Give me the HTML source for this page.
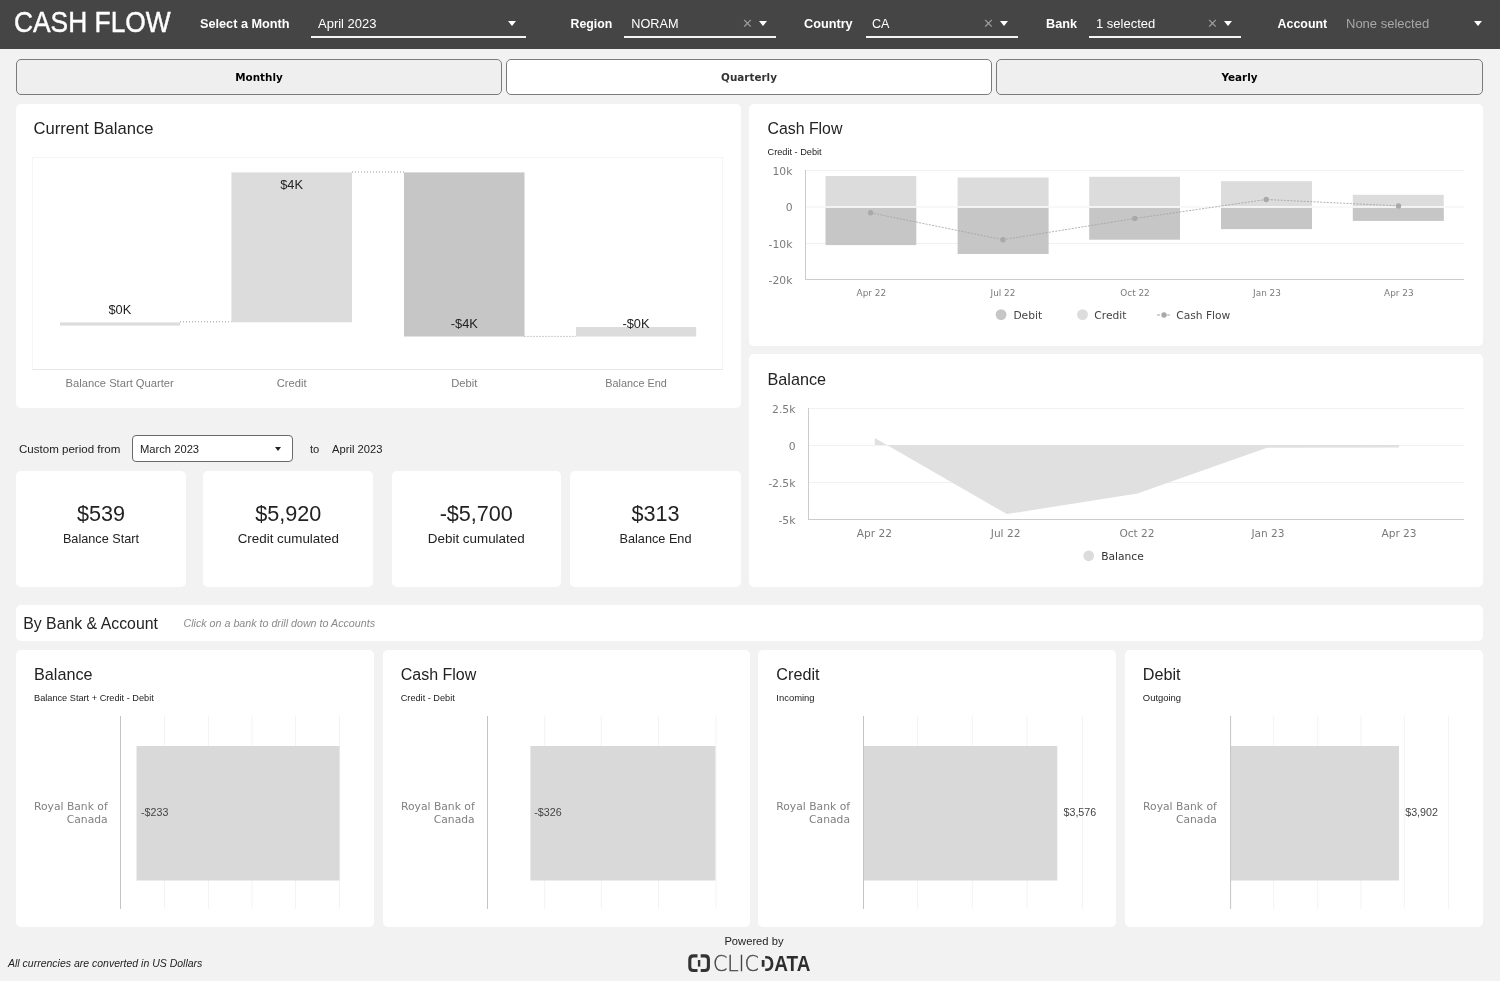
<!DOCTYPE html>
<html lang="en">
<head>
<meta charset="utf-8">
<title>Cash Flow</title>
<style>
*{box-sizing:border-box;margin:0;padding:0}
html,body{width:1500px;height:981px;overflow:hidden}
body{background:#f2f2f2;font-family:"Liberation Sans",sans-serif;color:#222;position:relative}
.abs{position:absolute}
.hdr{position:absolute;left:0;top:0;width:1500px;height:48.5px;background:#454545}
.hdr .title{position:absolute;left:14.3px;top:2.2px;font-size:30.3px;line-height:40px;color:#fff;-webkit-text-stroke:0.45px #fff;transform:scaleX(.87);transform-origin:0 50%;white-space:nowrap}
.hl{position:absolute;top:14.4px;font-size:12.7px;line-height:20px;font-weight:bold;color:#fff;white-space:nowrap}
.hv{position:absolute;top:14px;font-size:13px;line-height:20px;color:#fff;white-space:nowrap}
.ul{position:absolute;top:36px;height:2px;background:#f4f4f4}
.arr{position:absolute;top:21px;width:0;height:0;border-left:4.5px solid transparent;border-right:4.5px solid transparent;border-top:5px solid #fff}
.xx{position:absolute;top:14px;font-size:13px;line-height:20px;color:#9a9a9a}
.btn{position:absolute;top:59px;height:36px;border:1px solid #7b7b7b;border-radius:5px;background:#efefef;font-family:"DejaVu Sans",sans-serif;font-weight:bold;font-size:10.4px;line-height:34px;text-align:center;color:#000}
.card{position:absolute;background:#fff;border-radius:5px}
.kpi{position:absolute;top:471px;height:116.4px;background:#fff;border-radius:5px;text-align:center}
.kpi .v{position:absolute;left:0;right:0;top:29px;font-size:21.6px;line-height:28px;color:#222}
.kpi .l{position:absolute;left:0;right:0;top:58.5px;font-size:13.4px;line-height:18px;color:#222}
svg text{font-family:"Liberation Sans",sans-serif}
.t16{font-size:16.5px;fill:#222}
.sub{font-size:9.2px;fill:#222}
.vd{font-family:"DejaVu Sans",sans-serif !important}
</style>
</head>
<body>
<div class="hdr">
  <div class="title">CASH FLOW</div>
  <div class="hl" style="left:200px">Select a Month</div>
  <div class="hv" style="left:318px">April 2023</div>
  <div class="ul" style="left:311px;width:215px"></div>
  <div class="arr" style="left:507.5px"></div>

  <div class="hl" style="left:570.5px;font-size:12.3px">Region</div>
  <div class="hv" style="left:631.3px;font-size:12.7px">NORAM</div>
  <div class="ul" style="left:624px;width:152px"></div>
  <div class="xx" style="left:742px">✕</div>
  <div class="arr" style="left:758.5px"></div>

  <div class="hl" style="left:804px">Country</div>
  <div class="hv" style="left:872px;font-size:12.6px">CA</div>
  <div class="ul" style="left:866px;width:152px"></div>
  <div class="xx" style="left:983px">✕</div>
  <div class="arr" style="left:999.5px"></div>

  <div class="hl" style="left:1046px">Bank</div>
  <div class="hv" style="left:1096px">1 selected</div>
  <div class="ul" style="left:1089px;width:152px"></div>
  <div class="xx" style="left:1207px">✕</div>
  <div class="arr" style="left:1223.5px"></div>

  <div class="hl" style="left:1277.6px;font-size:12.4px">Account</div>
  <div class="hv" style="left:1346px;color:#a8a8a8">None selected</div>
  <div class="arr" style="left:1473.5px"></div>
</div>

<div class="btn" style="left:16px;width:486px">Monthly</div>
<div class="btn" style="left:506px;width:486px;background:#fff;color:#333">Quarterly</div>
<div class="btn" style="left:996px;width:487px">Yearly</div>

<div class="card" style="left:16px;top:104px;width:725px;height:304px"></div>
<div class="card" style="left:749px;top:104px;width:734px;height:242px"></div>
<div class="card" style="left:749px;top:354px;width:734px;height:233px"></div>

<div class="abs" style="left:19px;top:440.7px;font-size:11.55px;line-height:16px;color:#222">Custom period from</div>
<div class="abs" style="left:132px;top:435px;width:161px;height:27px;border:1px solid #6a6a6a;border-radius:4px;background:#fff;font-size:11.2px;line-height:26.2px;padding-left:7px;color:#222">March 2023</div>
<div class="abs" style="left:275px;top:447px;width:0;height:0;border-left:3.5px solid transparent;border-right:3.5px solid transparent;border-top:4px solid #222"></div>
<div class="abs" style="left:310px;top:440.7px;font-size:11.2px;line-height:16px;color:#222">to</div>
<div class="abs" style="left:332px;top:440.7px;font-size:11.2px;line-height:16px;color:#222">April 2023</div>

<div class="kpi" style="left:16px;width:170px"><div class="v">$539</div><div class="l" style="font-size:12.7px">Balance Start</div></div>
<div class="kpi" style="left:203.2px;width:170.2px"><div class="v">$5,920</div><div class="l">Credit cumulated</div></div>
<div class="kpi" style="left:391.5px;width:169.5px"><div class="v">-$5,700</div><div class="l">Debit cumulated</div></div>
<div class="kpi" style="left:570px;width:171px"><div class="v">$313</div><div class="l" style="font-size:12.7px">Balance End</div></div>

<div class="card" style="left:16px;top:605px;width:1467px;height:36px"></div>

<div class="card" style="left:16px;top:650px;width:357.5px;height:277px"></div>
<div class="card" style="left:382.5px;top:650px;width:367px;height:277px"></div>
<div class="card" style="left:758px;top:650px;width:358px;height:277px"></div>
<div class="card" style="left:1125px;top:650px;width:358px;height:277px"></div>

<svg class="abs" style="left:0;top:0" width="1500" height="981" viewBox="0 0 1500 981">
<!--CHARTS-->
<!-- ===== Current Balance waterfall ===== -->
<text class="t16" x="33.6" y="134.3" style="font-size:16.6px">Current Balance</text>
<rect x="32.5" y="157.5" width="690" height="212" fill="none" stroke="#f5f5f5"/>
<line x1="32" y1="369.5" x2="723" y2="369.5" stroke="#e8e8e8"/>
<rect x="60" y="322.4" width="120" height="3.2" fill="#dcdcdc"/>
<rect x="231.4" y="172.4" width="120.6" height="149.9" fill="#dcdcdc"/>
<rect x="404" y="172.4" width="120.5" height="164.1" fill="#c6c6c6"/>
<rect x="576" y="327" width="120.2" height="9.5" fill="#dcdcdc"/>
<g stroke="#9a9a9a" stroke-width="1" stroke-dasharray="1 2" fill="none">
<line x1="180" y1="321.8" x2="231.4" y2="321.8"/>
<line x1="352" y1="172" x2="404" y2="172"/>
<line x1="524.5" y1="336.4" x2="576" y2="336.4"/>
</g>
<g font-size="12.8" fill="#222" text-anchor="middle">
<text x="119.8" y="313.8">$0K</text>
<text x="291.6" y="189">$4K</text>
<text x="464.3" y="327.6">-$4K</text>
<text x="636" y="327.6">-$0K</text>
</g>
<g font-size="11.2" fill="#7a7a7a" text-anchor="middle">
<text x="119.7" y="386.5">Balance Start Quarter</text>
<text x="291.6" y="386.5">Credit</text>
<text x="464.2" y="386.5">Debit</text>
<text x="636" y="386.5" font-size="10.85">Balance End</text>
</g>

<!-- ===== Cash Flow combo chart ===== -->
<text class="t16" x="767.5" y="134.3" style="font-size:15.85px">Cash Flow</text>
<text class="sub" x="767.5" y="155.1">Credit - Debit</text>
<g stroke="#f1f1f1" stroke-width="1">
<line x1="805" y1="170.5" x2="1464" y2="170.5"/>
<line x1="805" y1="207" x2="1464" y2="207"/>
<line x1="805" y1="243.5" x2="1464" y2="243.5"/>
</g>
<g fill="#dcdcdc">
<rect x="825.5" y="176" width="90.8" height="30.5"/>
<rect x="957.6" y="177.5" width="91" height="29"/>
<rect x="1089.2" y="176.8" width="90.8" height="29.7"/>
<rect x="1221" y="181.2" width="91" height="25.3"/>
<rect x="1352.8" y="194.8" width="91" height="11.7"/>
</g>
<g fill="#c6c6c6">
<rect x="825.5" y="207.6" width="90.8" height="37.5"/>
<rect x="957.6" y="207.6" width="91" height="46.4"/>
<rect x="1089.2" y="207.6" width="90.8" height="32.1"/>
<rect x="1221" y="207.6" width="91" height="21.5"/>
<rect x="1352.8" y="207.6" width="91" height="13.3"/>
</g>
<g stroke="#ffffff" stroke-width="1.2"><line x1="825.5" y1="207" x2="916.3" y2="207"/><line x1="957.6" y1="207" x2="1048.6" y2="207"/><line x1="1089.2" y1="207" x2="1180" y2="207"/><line x1="1221" y1="207" x2="1312" y2="207"/><line x1="1352.8" y1="207" x2="1443.8" y2="207"/></g>
<line x1="805.5" y1="170" x2="805.5" y2="280" stroke="#cccccc"/>
<line x1="805" y1="279.5" x2="1464" y2="279.5" stroke="#cccccc"/>
<polyline points="870.6,212.8 1003,239.7 1134.8,218.5 1266.2,199.5 1398.5,205.9" fill="none" stroke="#a4a4a4" stroke-width="0.85" stroke-dasharray="2 1.3"/>
<g fill="#a9a9a9">
<circle cx="870.6" cy="212.8" r="2.7"/><circle cx="1003" cy="239.7" r="2.7"/><circle cx="1134.8" cy="218.5" r="2.7"/><circle cx="1266.2" cy="199.5" r="2.7"/><circle cx="1398.5" cy="205.9" r="2.7"/>
</g>
<g class="vd" font-size="10.8" fill="#7a7a7a" text-anchor="end">
<text class="vd" x="792.5" y="175">10k</text>
<text class="vd" x="792.5" y="211">0</text>
<text class="vd" x="792.5" y="248">-10k</text>
<text class="vd" x="792.5" y="283.7">-20k</text>
</g>
<g font-size="8.9" fill="#7a7a7a" text-anchor="middle">
<text class="vd" x="871.3" y="295.8">Apr 22</text>
<text class="vd" x="1003" y="295.8">Jul 22</text>
<text class="vd" x="1135" y="295.8">Oct 22</text>
<text class="vd" x="1267" y="295.8">Jan 23</text>
<text class="vd" x="1398.8" y="295.8">Apr 23</text>
</g>
<circle cx="1001.1" cy="314.6" r="5.4" fill="#c6c6c6"/>
<circle cx="1082.5" cy="314.6" r="5.4" fill="#dcdcdc"/>
<line x1="1157" y1="315" x2="1171" y2="315" stroke="#a8a8a8" stroke-dasharray="3 2"/>
<circle cx="1164" cy="315" r="2.7" fill="#a9a9a9"/>
<g font-size="10.7" fill="#444">
<text class="vd" x="1013.4" y="318.9">Debit</text>
<text class="vd" x="1094.3" y="318.9">Credit</text>
<text class="vd" x="1176.2" y="318.9">Cash Flow</text>
</g>

<!-- ===== Balance area chart ===== -->
<text class="t16" x="767.5" y="384.8" style="font-size:16.2px">Balance</text>
<g stroke="#f1f1f1" stroke-width="1">
<line x1="808" y1="408.5" x2="1464" y2="408.5"/>
<line x1="808" y1="445.5" x2="1464" y2="445.5"/>
<line x1="808" y1="482.5" x2="1464" y2="482.5"/>
</g>
<path d="M874.8 438.1 L1006.8 514.1 L1137.5 493.6 L1267 447.7 L1399 447.5 L1399 445 L874.8 445 Z" fill="#e0e0e0"/>
<line x1="808.5" y1="408" x2="808.5" y2="520" stroke="#cccccc"/>
<line x1="808" y1="519.5" x2="1464" y2="519.5" stroke="#cccccc"/>
<g font-size="10.8" fill="#7a7a7a" text-anchor="end">
<text class="vd" x="795.5" y="413.2">2.5k</text>
<text class="vd" x="795.5" y="449.7">0</text>
<text class="vd" x="795.5" y="486.7">-2.5k</text>
<text class="vd" x="795.5" y="523.7">-5k</text>
</g>
<g font-size="10.6" fill="#7a7a7a" text-anchor="middle">
<text class="vd" x="874.4" y="537.3">Apr 22</text>
<text class="vd" x="1005.6" y="537.3">Jul 22</text>
<text class="vd" x="1137" y="537.3">Oct 22</text>
<text class="vd" x="1268" y="537.3">Jan 23</text>
<text class="vd" x="1399" y="537.3">Apr 23</text>
</g>
<circle cx="1088.7" cy="555.8" r="5.4" fill="#dcdcdc"/>
<text class="vd" x="1101.2" y="559.8" font-size="10.7" fill="#333">Balance</text>

<!-- ===== By Bank & Account ===== -->
<text x="23.2" y="628.5" font-size="15.85" fill="#222">By Bank &amp; Account</text>
<text x="183.5" y="627.2" font-size="10.7" font-style="italic" fill="#8a8a8a">Click on a bank to drill down to Accounts</text>

<!-- card 1 -->
<text class="t16" x="34" y="680" style="font-size:16.2px">Balance</text>
<text class="sub" x="34" y="700.8">Balance Start + Credit - Debit</text>
<g stroke="#f3f3f3"><line x1="164.5" y1="716" x2="164.5" y2="909"/><line x1="208.5" y1="716" x2="208.5" y2="909"/><line x1="252" y1="716" x2="252" y2="909"/><line x1="295.5" y1="716" x2="295.5" y2="909"/><line x1="339.5" y1="716" x2="339.5" y2="909"/></g>
<rect x="136.5" y="746" width="203" height="134.5" fill="#d9d9d9"/>
<line x1="120.5" y1="716" x2="120.5" y2="909" stroke="#c4c4c4"/>
<g font-size="10.75" fill="#808080" text-anchor="end"><text class="vd" x="107.7" y="810">Royal Bank of</text><text class="vd" x="107.7" y="823.4">Canada</text></g>
<text x="141" y="816.3" font-size="10.7" fill="#444">-$233</text>

<!-- card 2 -->
<text class="t16" x="400.7" y="680" style="font-size:16px">Cash Flow</text>
<text class="sub" x="400.7" y="700.8">Credit - Debit</text>
<g stroke="#f3f3f3"><line x1="544.7" y1="716" x2="544.7" y2="909"/><line x1="601.3" y1="716" x2="601.3" y2="909"/><line x1="658.5" y1="716" x2="658.5" y2="909"/><line x1="716" y1="716" x2="716" y2="909"/></g>
<rect x="530.4" y="746" width="185" height="134.5" fill="#d9d9d9"/>
<line x1="487.5" y1="716" x2="487.5" y2="909" stroke="#c4c4c4"/>
<g font-size="10.75" fill="#808080" text-anchor="end"><text class="vd" x="474.7" y="810">Royal Bank of</text><text class="vd" x="474.7" y="823.4">Canada</text></g>
<text x="534.3" y="816.3" font-size="10.7" fill="#444">-$326</text>

<!-- card 3 -->
<text class="t16" x="776.3" y="680" style="font-size:16.2px">Credit</text>
<text class="sub" x="776.3" y="700.8" style="font-size:9.45px">Incoming</text>
<g stroke="#f3f3f3"><line x1="917.6" y1="716" x2="917.6" y2="909"/><line x1="972.3" y1="716" x2="972.3" y2="909"/><line x1="1027" y1="716" x2="1027" y2="909"/><line x1="1082.4" y1="716" x2="1082.4" y2="909"/></g>
<rect x="863.5" y="746" width="193.8" height="134.5" fill="#d9d9d9"/>
<line x1="863.5" y1="716" x2="863.5" y2="909" stroke="#c4c4c4"/>
<g font-size="10.75" fill="#808080" text-anchor="end"><text class="vd" x="850" y="810">Royal Bank of</text><text class="vd" x="850" y="823.4">Canada</text></g>
<text x="1063.5" y="816.3" font-size="10.7" fill="#444">$3,576</text>

<!-- card 4 -->
<text class="t16" x="1142.8" y="680" style="font-size:16.2px">Debit</text>
<text class="sub" x="1142.8" y="700.8" style="font-size:9.45px">Outgoing</text>
<g stroke="#f3f3f3"><line x1="1273.7" y1="716" x2="1273.7" y2="909"/><line x1="1317.7" y1="716" x2="1317.7" y2="909"/><line x1="1360.9" y1="716" x2="1360.9" y2="909"/><line x1="1404.3" y1="716" x2="1404.3" y2="909"/><line x1="1448.6" y1="716" x2="1448.6" y2="909"/></g>
<rect x="1230.6" y="746" width="168.4" height="134.5" fill="#d9d9d9"/>
<line x1="1230.6" y1="716" x2="1230.6" y2="909" stroke="#c4c4c4"/>
<g font-size="10.75" fill="#808080" text-anchor="end"><text class="vd" x="1216.8" y="810">Royal Bank of</text><text class="vd" x="1216.8" y="823.4">Canada</text></g>
<text x="1405.2" y="816.3" font-size="10.7" fill="#444">$3,902</text>

<!-- ===== footer ===== -->
<text x="8" y="967.2" font-size="10.5" font-style="italic" fill="#222">All currencies are converted in US Dollars</text>
<text x="724.4" y="944.7" font-size="11.2" fill="#222">Powered by</text>
<!--LOGO-->
<g fill="none" stroke="#333" stroke-width="3.1" stroke-linecap="butt">
<path d="M697.5 955.9 H693.4 Q689.8 955.9 689.8 959.5 V966.9 Q689.8 970.5 693.4 970.5 H697.5"/>
<path d="M700.7 955.9 H704.8 Q708.4 955.9 708.4 959.5 V966.9 Q708.4 970.5 704.8 970.5 H700.7"/>
<line x1="699.1" y1="960" x2="699.1" y2="966.6" stroke-width="2.4"/>
</g>
<text x="712.9" y="971.1" stroke="#444" stroke-width="0.35" font-family="'DejaVu Sans Light','DejaVu Sans',sans-serif" font-weight="200" font-size="21" fill="#444" textLength="46" lengthAdjust="spacingAndGlyphs" style="font-family:'DejaVu Sans Light','DejaVu Sans',sans-serif">CLIC</text>
<text x="760.6" y="971.1" font-weight="bold" font-size="21.4" fill="#2e2e2e" textLength="49.8" lengthAdjust="spacingAndGlyphs">DATA</text>
<rect x="760" y="954" width="5.2" height="6" fill="#f2f2f2"/>
<rect x="760" y="966.8" width="5.2" height="6" fill="#f2f2f2"/>
<!--/LOGO-->
<!--/CHARTS-->
</svg>
</body>
</html>
